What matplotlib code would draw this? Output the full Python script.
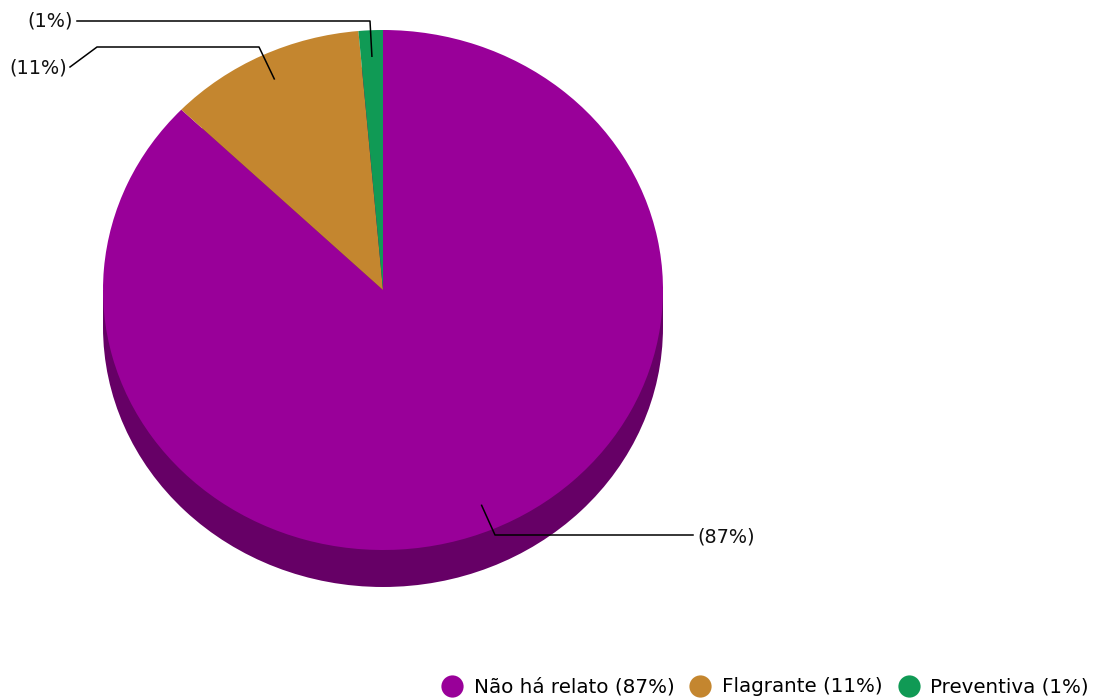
import numpy as np
import matplotlib
matplotlib.use("Agg")
import matplotlib.pyplot as plt
from matplotlib.lines import Line2D
from matplotlib.patches import Ellipse, Rectangle

labels = ["Não há relato", "Flagrante", "Preventiva"]
values = [87.2, 11.4, 1.4]
pct_text = ["(87%)", "(11%)", "(1%)"]
colors = ["#990099", "#C4862F", "#109A55"]
side_color = "#660066"

W, H = 1095, 699
cx, cy, rx, ry, depth = 383, 290, 280, 260, 37
FS = 14.3

fig = plt.figure(figsize=(W / 100, H / 100), dpi=100)

# pie axes sized so the unit circle becomes the ellipse of the picture
d = depth / ry
pax = fig.add_axes([(cx - rx) / W, (H - (cy + ry + depth)) / H, 2 * rx / W, (2 * ry + depth) / H])
pax.add_patch(Rectangle((-1, -d), 2, d, color=side_color, lw=0))
pax.add_patch(Ellipse((0, -d), 2, 2, color=side_color, lw=0))
wedges, _ = pax.pie(values, colors=colors, startangle=90, counterclock=False,
                    radius=1, wedgeprops=dict(linewidth=0))
pax.set_aspect("auto")
pax.set_xlim(-1, 1)
pax.set_ylim(-1 - d, 1)
pax.axis("off")

# overlay in pixel coordinates for the leader lines
ax = fig.add_axes([0, 0, 1, 1])
ax.set_xlim(0, W)
ax.set_ylim(H, 0)
ax.axis("off")
ax.patch.set_alpha(0)

# elbow points and label anchors for each slice
routes = [
    ([(495, 535), (693, 535)], (697, 537), "left"),
    ([(259, 47), (97, 47), (70, 67)], (67, 68), "right"),
    ([(370, 21), (77, 21)], (73, 21), "right"),
]
for w, txt, (pts, tpos, ha) in zip(wedges, pct_text, routes):
    mid = np.deg2rad((w.theta1 + w.theta2) / 2)
    ax0 = cx + 0.9 * rx * np.cos(mid)
    ay0 = cy - 0.9 * ry * np.sin(mid)
    xs = [ax0] + [p[0] for p in pts]
    ys = [ay0] + [p[1] for p in pts]
    ax.plot(xs, ys, color="black", lw=1.1)
    ax.text(tpos[0], tpos[1], txt, ha=ha, va="center", fontsize=FS - 0.4, color="#111111")

handles = [Line2D([], [], marker="o", ls="", markersize=16, markerfacecolor=c,
                  markeredgewidth=0) for c in colors]
leg_labels = [f"{l} ({round(v)}%)" for l, v in zip(labels, values)]
fig.legend(handles, leg_labels, loc="center right", bbox_to_anchor=(1099 / W, 1 - 687 / H),
           ncol=3, frameon=False, fontsize=FS, handletextpad=0.5, columnspacing=0.7,
           borderpad=0, handlelength=1.2)

fig.savefig("out.png", dpi=100)
